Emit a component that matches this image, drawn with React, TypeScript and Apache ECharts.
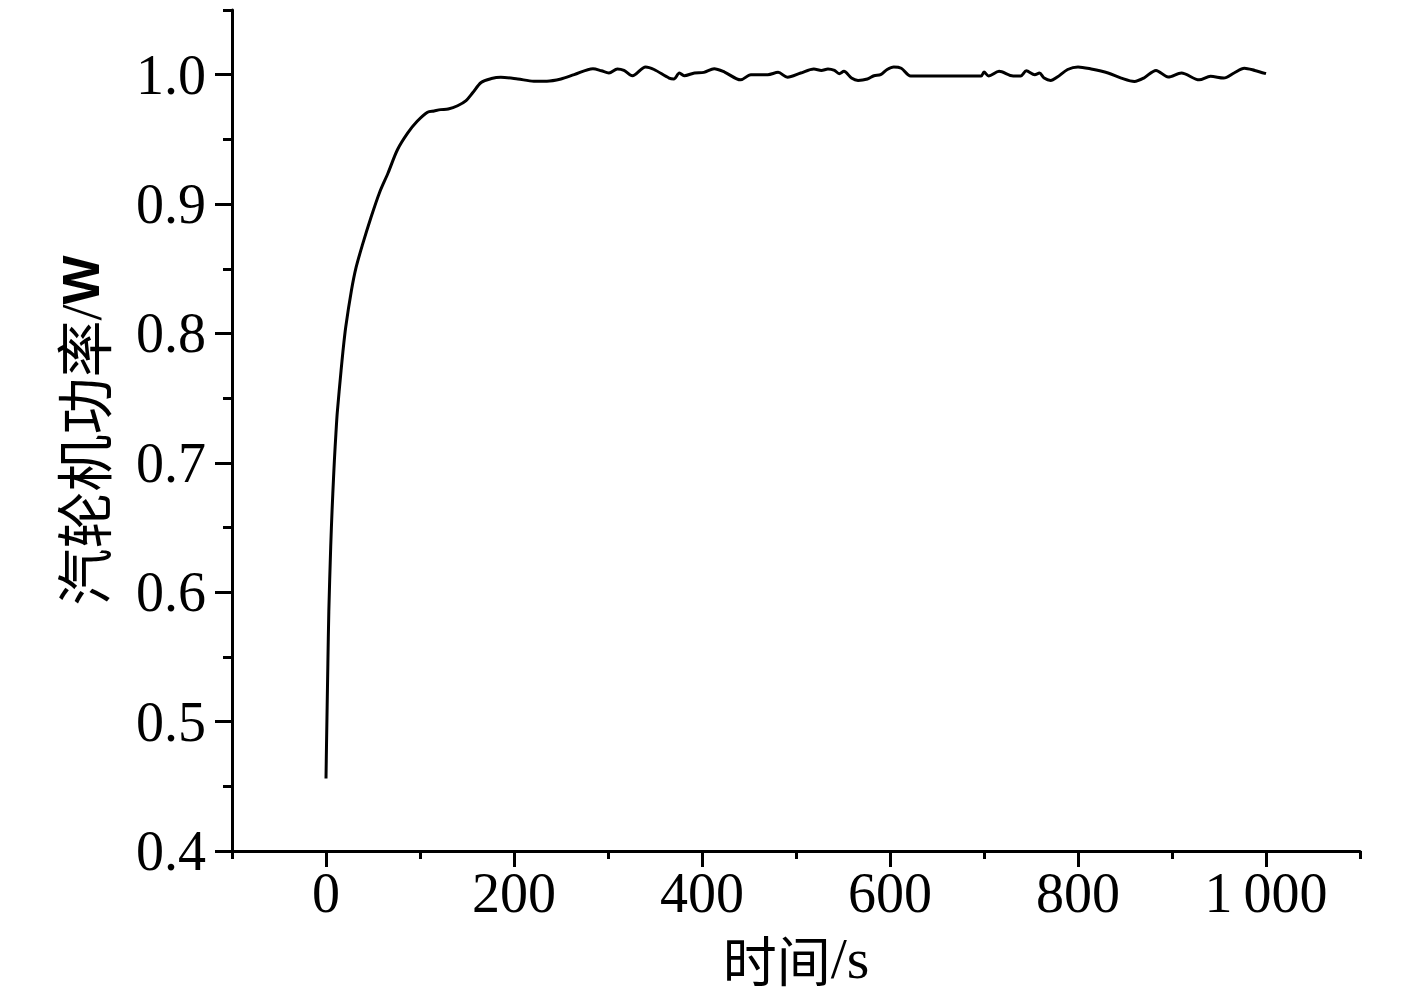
import React, { useEffect, useRef } from "react";
import * as echarts from "echarts";

const timeS = [0, 0.5, 2, 3, 5, 6.5, 8, 9, 10.5, 12, 16, 18, 21, 27, 32, 39, 48, 57, 66, 76, 87, 97, 108, 115, 122, 130, 140, 149, 156, 165, 176, 186, 204, 221, 235, 250, 264, 284, 293, 301, 310, 317, 326, 340, 349, 365, 370, 376, 381, 392, 402, 413, 424, 441, 452, 470, 481, 491, 505, 519, 527, 534, 541, 546, 551, 559, 566, 576, 583, 590, 597, 604, 612, 622, 697, 700, 705, 716, 731, 739, 745, 754, 759, 764, 771, 778, 789, 800, 814, 832, 846, 860, 870, 883, 896, 910, 929, 941, 955, 966, 977, 988, 1000];
const power = [0.456, 0.48, 0.545, 0.585, 0.635, 0.664, 0.688, 0.703, 0.722, 0.739, 0.771, 0.786, 0.805, 0.833, 0.851, 0.869, 0.890, 0.909, 0.924, 0.942, 0.955, 0.964, 0.971, 0.972, 0.973, 0.9735, 0.976, 0.980, 0.986, 0.994, 0.997, 0.998, 0.9967, 0.995, 0.995, 0.9967, 1.000, 1.0046, 1.003, 1.0013, 1.0044, 1.0033, 0.9992, 1.006, 1.004, 0.9974, 0.9967, 1.0013, 0.9992, 1.0013, 1.0018, 1.0046, 1.002, 0.996, 1.000, 1.000, 1.0018, 0.998, 1.0013, 1.0044, 1.0033, 1.0044, 1.0033, 1.0008, 1.0026, 0.9974, 0.9956, 0.9967, 0.9992, 1.000, 1.004, 1.006, 1.005, 0.999, 0.999, 1.002, 0.999, 1.0026, 0.999, 0.999, 1.003, 1.000, 1.0013, 0.9974, 0.9956, 0.9982, 1.004, 1.006, 1.0044, 1.0013, 0.9974, 0.9948, 0.9974, 1.0033, 0.9982, 1.0013, 0.996, 0.9987, 0.9974, 1.0013, 1.005, 1.0033, 1.0008];

const xMajorTicks = [0, 200, 400, 600, 800, 1000];
const xMinorTicks = [-100, 100, 300, 500, 700, 900, 1100];
const yMajorTicks = [0.4, 0.5, 0.6, 0.7, 0.8, 0.9, 1.0];
const yMinorTicks = [0.45, 0.55, 0.65, 0.75, 0.85, 0.95, 1.05];

const X_MIN = -100;
const X_MAX = 1100;
const Y_MIN = 0.4;
const Y_MAX = 1.05;

const serif = "'Liberation Serif', 'Times New Roman', serif";
const cjk = "'Noto Sans CJK SC', sans-serif";

export default function App() {
  const ref = useRef<HTMLDivElement>(null);
  useEffect(() => {
    if (!ref.current) return;
    const chart = echarts.init(ref.current, undefined, { renderer: "svg" });
    const lineStyle = { color: "#000", width: 3 };
    const tickStyle = { color: "#000", width: 3 };
    chart.setOption({
      animation: false,
      backgroundColor: "#fff",
      grid: { left: 232, right: 57, top: 10, bottom: 148, containLabel: false },
      xAxis: [
        {
          type: "value",
          min: X_MIN,
          max: X_MAX,
          position: "bottom",
          splitLine: { show: false },
          axisLine: { show: true, onZero: false, lineStyle },
          axisTick: { show: true, customValues: xMajorTicks, length: 16, lineStyle: tickStyle },
          axisLabel: {
            show: true,
            customValues: xMajorTicks,
            margin: 14,
            color: "#000",
            fontSize: 56,
            fontFamily: serif,
            formatter: (v: number) => (v >= 1000 ? String(v).replace(/(\d)(\d{3})$/, "$1\u2009$2") : String(v)),
          },
          name: "{a|时间}{c|/s}",
          nameLocation: "middle",
          nameGap: 78,
          nameTextStyle: {
            rich: {
              a: { fontFamily: cjk, fontSize: 54, color: "#000" },
              c: { fontFamily: serif, fontSize: 58, color: "#000" },
            },
          },
        },
        {
          type: "value",
          min: X_MIN,
          max: X_MAX,
          position: "bottom",
          splitLine: { show: false },
          axisLine: { show: false, onZero: false },
          axisTick: { show: true, customValues: xMinorTicks, length: 8, lineStyle: tickStyle },
          axisLabel: { show: false },
        },
      ],
      yAxis: [
        {
          type: "value",
          min: Y_MIN,
          max: Y_MAX,
          position: "left",
          splitLine: { show: false },
          axisLine: { show: true, onZero: false, lineStyle },
          axisTick: { show: true, customValues: yMajorTicks, length: 17, lineStyle: tickStyle },
          axisLabel: {
            show: true,
            customValues: yMajorTicks,
            margin: 26,
            color: "#000",
            fontSize: 56,
            fontFamily: serif,
            formatter: (v: number) => v.toFixed(1),
          },
          name: "{a|汽轮机功率}{c|/}{b|W}",
          nameLocation: "middle",
          nameRotate: 90,
          nameGap: 122,
          nameTextStyle: {
            rich: {
              a: { fontFamily: cjk, fontSize: 57, color: "#000" },
              c: { fontFamily: serif, fontSize: 58, color: "#000" },
              b: { fontFamily: "'Liberation Sans', Arial, sans-serif", fontWeight: "bold", fontSize: 52, color: "#000" },
            },
          },
        },
        {
          type: "value",
          min: Y_MIN,
          max: Y_MAX,
          position: "left",
          splitLine: { show: false },
          axisLine: { show: false, onZero: false },
          axisTick: { show: true, customValues: yMinorTicks, length: 9, lineStyle: tickStyle },
          axisLabel: { show: false },
        },
      ],
      series: [
        {
          type: "line",
          xAxisIndex: 0,
          yAxisIndex: 0,
          data: timeS.map((t, i) => [t, power[i]]),
          showSymbol: false,
          symbol: "none",
          smooth: 0.3,
          lineStyle: { color: "#000", width: 3 },
        },
      ],
    });
    return () => chart.dispose();
  }, []);
  return (
    <div
      ref={ref}
      style={{ position: "fixed", left: 0, top: 0, width: 1417, height: 999, background: "#fff" }}
    />
  );
}
